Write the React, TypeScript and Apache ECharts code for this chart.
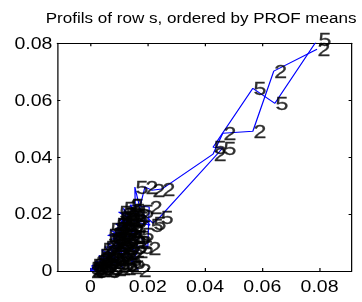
import React, { useEffect, useRef } from "react";
import * as echarts from "echarts";

const titleText = "Profils of row s, ordered by PROF means";
const xTicks = [0, 0.02, 0.04, 0.06, 0.08];
const xMin = -0.0116;
const xMax = 0.0912;
const yMin = 0;
const yMax = 0.08;
const yStep = 0.02;

const twoX = [0.0135, 0.011, 0.0145, 0.009, 0.0115, 0.014, 0.007, 0.01, 0.0145, 0.011, 0.012, 0.0128, 0.0105, 0.012, 0.0095, 0.013, 0.0108, 0.0085, 0.0128, 0.01, 0.008, 0.0125, 0.01, 0.0082, 0.006, 0.0095, 0.0075, 0.006, 0.0042, 0.0058, 0.004, 0.0018, 0.0025, 0.001, 0.0, 0.0005, 0.002, 0.0012, 0.0035, 0.005, 0.003, 0.0065, 0.008, 0.005, 0.009, 0.0114, 0.007, 0.0115, 0.0135, 0.009, 0.014, 0.0166, 0.0075, 0.012, 0.0155, 0.01, 0.014, 0.0168, 0.011, 0.015, 0.02, 0.0205, 0.0138, 0.0165, 0.019, 0.0214, 0.0249, 0.0428, 0.0462, 0.0567, 0.064, 0.0791];
const twoY = [0.0205, 0.02, 0.018, 0.0165, 0.0145, 0.014, 0.011, 0.012, 0.0105, 0.0085, 0.0185, 0.015, 0.0165, 0.013, 0.0135, 0.01, 0.011, 0.0115, 0.0065, 0.007, 0.009, 0.0025, 0.0042, 0.0055, 0.007, 0.0008, 0.003, 0.004, 0.005, 0.001, 0.0028, 0.0035, 0.0002, 0.0012, 0.0, 0.0002, 0.0008, 0.0025, 0.0015, 0.0004, 0.0042, 0.002, 0.0006, 0.006, 0.003, 0.001, 0.008, 0.0048, 0.0012, 0.01, 0.0055, 0.0004, 0.013, 0.009, 0.007, 0.015, 0.012, 0.01, 0.018, 0.016, 0.008, 0.0225, 0.0232, 0.0195, 0.0295, 0.0284, 0.0288, 0.0411, 0.0484, 0.0491, 0.0702, 0.0779];

const fiveX = [0.0145, 0.0125, 0.015, 0.0105, 0.014, 0.0085, 0.0125, 0.006, 0.0148, 0.0115, 0.013, 0.0115, 0.013, 0.01, 0.0118, 0.009, 0.0112, 0.0078, 0.012, 0.01, 0.007, 0.0132, 0.0108, 0.0088, 0.005, 0.0105, 0.0085, 0.007, 0.005, 0.0068, 0.0035, 0.0048, 0.003, 0.0005, 0.0008, 0.0, 0.0015, 0.0025, 0.004, 0.003, 0.0055, 0.006, 0.004, 0.0075, 0.0095, 0.006, 0.0095, 0.012, 0.008, 0.011, 0.0145, 0.0173, 0.0068, 0.0125, 0.015, 0.0176, 0.0088, 0.0135, 0.0103, 0.016, 0.012, 0.0098, 0.015, 0.0208, 0.014, 0.0157, 0.0155, 0.0175, 0.0218, 0.0243, 0.0462, 0.0428, 0.0567, 0.0644, 0.0794];
const fiveY = [0.0215, 0.019, 0.0195, 0.017, 0.016, 0.014, 0.0145, 0.0125, 0.012, 0.007, 0.02, 0.022, 0.0175, 0.0185, 0.016, 0.015, 0.0125, 0.013, 0.008, 0.01, 0.0105, 0.004, 0.0055, 0.008, 0.0085, 0.0025, 0.004, 0.006, 0.004, 0.0008, 0.0045, 0.002, 0.0015, 0.002, 0.0005, 0.001, 0.0, 0.003, 0.0008, 0.0055, 0.0035, 0.0, 0.0075, 0.005, 0.0018, 0.01, 0.007, 0.0025, 0.0115, 0.0095, 0.003, 0.0084, 0.0145, 0.011, 0.0085, 0.013, 0.0165, 0.014, 0.0182, 0.012, 0.02, 0.0207, 0.0175, 0.0161, 0.023, 0.0185, 0.0295, 0.021, 0.0168, 0.019, 0.0432, 0.0435, 0.0642, 0.0589, 0.0815];

const W = 297;
const H = 302;
const SX = 362 / W;
const FONT = "'Liberation Sans', Arial, sans-serif";

export default function App() {
  const ref = useRef<HTMLDivElement>(null);
  useEffect(() => {
    if (!ref.current) return;
    const chart = echarts.init(ref.current, null, { renderer: "svg" });
    const twoData = twoX.map((x, i) => [x, twoY[i]]);
    const fiveData = fiveX.map((x, i) => [x, fiveY[i]]);
    const lineSeries = (name: string, data: number[][]) => ({
      name,
      type: "line",
      data,
      symbol: "none",
      clip: true,
      silent: true,
      lineStyle: { color: "#0000ff", width: 1 },
      z: 1,
    });
    const labelSeries = (name: string, data: number[][]) => ({
      name: name + "-labels",
      type: "scatter",
      data,
      symbolSize: 1,
      clip: false,
      silent: true,
      itemStyle: { color: "rgba(0,0,0,0)" },
      label: {
        show: true,
        position: "right",
        distance: 0,
        formatter: name,
        color: "#000",
        fontSize: 19,
        fontFamily: FONT,
        textBorderColor: "#000",
        textBorderWidth: 0.3,
      },
      labelLayout: { hideOverlap: false },
      z: 3,
    });
    const xCommon = {
      type: "value",
      min: xMin,
      max: xMax,
      splitLine: { show: false },
      axisLine: { show: true, onZero: false, lineStyle: { color: "#000", width: 1 } },
    };
    const yCommon = {
      type: "value",
      min: yMin,
      max: yMax,
      interval: yStep,
      splitLine: { show: false },
      axisLine: { show: true, onZero: false, lineStyle: { color: "#000", width: 1 } },
    };
    chart.setOption({
      animation: false,
      grid: { left: 47, right: 8.5, top: 43.3, bottom: 31, containLabel: false },
      graphic: [
        {
          type: "text",
          x: 165,
          y: 18,
          style: {
            text: titleText,
            fontSize: 14,
            fontFamily: FONT,
            fill: "#000",
            align: "center",
            verticalAlign: "middle",
          },
        },
      ],
      xAxis: [
        {
          ...xCommon,
          position: "bottom",
          axisTick: { show: true, inside: true, length: 3, customValues: xTicks, lineStyle: { color: "#000" } },
          axisLabel: { show: true, customValues: xTicks, margin: 8, color: "#000", fontSize: 16, fontFamily: FONT },
        },
        {
          ...xCommon,
          position: "top",
          axisTick: { show: true, inside: true, length: 3, customValues: xTicks, lineStyle: { color: "#000" } },
          axisLabel: { show: false, customValues: xTicks },
        },
      ],
      yAxis: [
        {
          ...yCommon,
          position: "left",
          axisTick: { show: true, inside: true, length: 2.5, lineStyle: { color: "#000" } },
          axisLabel: { show: true, margin: 4, color: "#000", fontSize: 16, fontFamily: FONT },
        },
        {
          ...yCommon,
          position: "right",
          axisTick: { show: true, inside: true, length: 2.5, lineStyle: { color: "#000" } },
          axisLabel: { show: false },
        },
      ],
      series: [
        lineSeries("2", twoData),
        lineSeries("5", fiveData),
        labelSeries("2", twoData),
        labelSeries("5", fiveData),
      ],
    });
    return () => chart.dispose();
  }, []);
  return (
    <div
      ref={ref}
      style={{
        position: "fixed",
        left: 0,
        top: 0,
        width: W,
        height: H,
        transform: `scaleX(${SX})`,
        transformOrigin: "0 0",
      }}
    />
  );
}
